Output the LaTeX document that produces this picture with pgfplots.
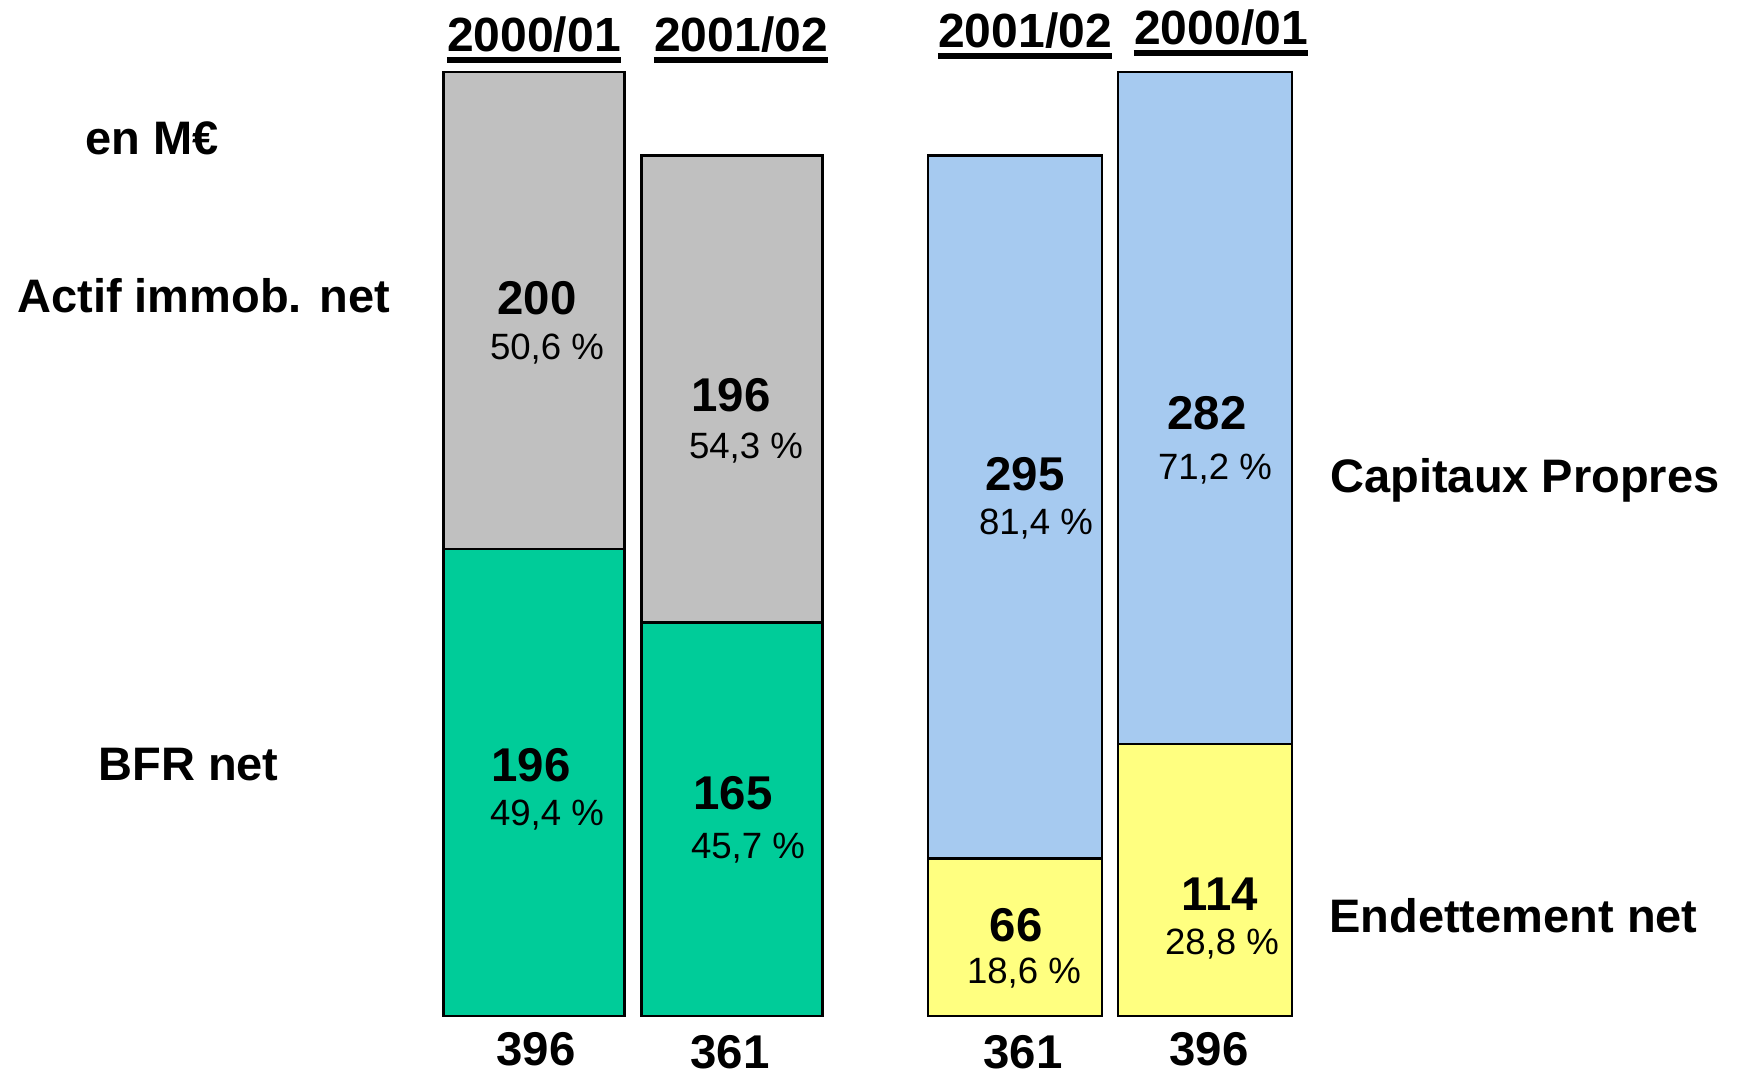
\documentclass[border=0pt]{standalone}
\usepackage{pgfplots}
\pgfplotsset{compat=1.18}
\usepackage{fontspec}
\setmainfont{Liberation Sans}
\definecolor{cgrey}{HTML}{C0C0C0}
\definecolor{cgreen}{HTML}{00CC99}
\definecolor{cblue}{HTML}{A6CAF0}
\definecolor{cyellow}{HTML}{FFFF80}
\begin{document}
\begin{tikzpicture}[
  big/.style={font=\fontsize{23.7}{28}\selectfont\bfseries, inner sep=0pt, anchor=base},
  pct/.style={font=\fontsize{18.3}{22}\selectfont, inner sep=0pt, anchor=base},
  lab/.style={font=\fontsize{23.5}{28}\selectfont\bfseries, inner sep=0pt, anchor=base west},
  hdr/.style={font=\fontsize{24}{28}\selectfont\bfseries, inner sep=0pt, anchor=base}]
\begin{axis}[scale only axis, width=868.5pt, height=538pt,
  xmin=0, xmax=1737, ymin=-25.17, ymax=426.2, hide axis, clip=false]
% assets: totals then BFR net
\addplot[ybar, bar shift=0pt, bar width=181, fill=cgrey, draw=black, line width=1.2pt]
  coordinates {(534,396) (732,361)};
\addplot[ybar, bar shift=0pt, bar width=181, fill=cgreen, draw=black, line width=1.2pt]
  coordinates {(534,196) (732,165)};
% liabilities: totals then Endettement net
\addplot[ybar, bar shift=0pt, bar width=174, fill=cblue, draw=black, line width=1.2pt]
  coordinates {(1015,361) (1205,396)};
\addplot[ybar, bar shift=0pt, bar width=174, fill=cyellow, draw=black, line width=1.2pt]
  coordinates {(1015,66) (1205,114)};
\end{axis}
\begin{scope}[x=0.5pt, y=-0.5pt, yshift=538pt]
% headers
\node[hdr] (h1) at (534,52) {2000/01};
\node[hdr] (h2) at (741,52) {2001/02};
\node[hdr] (h3) at (1025,48) {2001/02};
\node[hdr] (h4) at (1221,45) {2000/01};
\foreach \n in {h1,h2,h3,h4}{
  \draw[line width=3pt] ([yshift=-3.8pt]\n.base west) -- ([yshift=-3.8pt]\n.base east);
}
% side labels
\node[lab] at (85,155) {en M€};
\node[lab] at (17,313) {Actif immob. net};
\node[lab] at (98,781) {BFR net};
\node[lab] at (1330,493) {Capitaux Propres};
\node[lab] at (1329,933) {Endettement net};
% bar 1
\node[big] at (537,315) {200};
\node[pct] at (547,360) {50,6 \%};
\node[big] at (531,782) {196};
\node[pct] at (547,826) {49,4 \%};
% bar 2
\node[big] at (731,412) {196};
\node[pct] at (746,459) {54,3 \%};
\node[big] at (733,810) {165};
\node[pct] at (748,859) {45,7 \%};
% bar 3
\node[big] at (1025,491) {295};
\node[pct] at (1036,535) {81,4 \%};
\node[big] at (1016,942) {66};
\node[pct] at (1024,984) {18,6 \%};
% bar 4
\node[big] at (1207,430) {282};
\node[pct] at (1215,480) {71,2 \%};
\node[big] at (1220,911) {114};
\node[pct] at (1222,955) {28,8 \%};
% totals
\node[big] at (536,1066) {396};
\node[big] at (730,1069) {361};
\node[big] at (1023,1069) {361};
\node[big] at (1209,1066) {396};
\end{scope}
\pgfresetboundingbox
\useasboundingbox (0,0) rectangle (868.5pt,538pt);
\end{tikzpicture}
\end{document}
